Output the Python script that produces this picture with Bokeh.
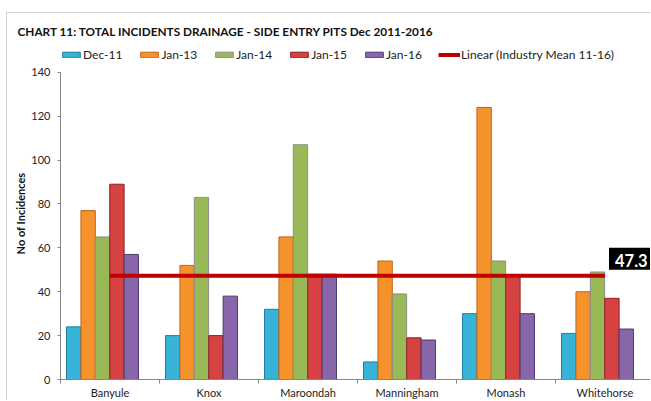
import numpy as np
from bokeh.plotting import figure
from bokeh.models import (ColumnDataSource, Range1d, FixedTicker, Legend, LegendItem, Label, Title)
from bokeh.embed import file_html
from bokeh.resources import INLINE

categories = ["Banyule", "Knox", "Maroondah", "Manningham", "Monash", "Whitehorse"]
series_names = ["Dec-11", "Jan-13", "Jan-14", "Jan-15", "Jan-16"]
dec11 = [24, 20, 32, 8, 30, 21]
jan13 = [77, 52, 65, 54, 124, 40]
jan14 = [65, 83, 107, 39, 54, 49]
jan15 = [89, 20, 48, 19, 47, 37]
jan16 = [57, 38, 48, 18, 30, 23]
industry_mean = 47.3
mean_label = "47.3"
y_ticks = [0, 20, 40, 60, 80, 100, 120, 140]

series = [dec11, jan13, jan14, jan15, jan16]
fills = ["#36b3d6", "#f5922c", "#98b955", "#d64242", "#8767aa"]
edges = ["#217f9b", "#c0651a", "#8c8c8c", "#8c2222", "#4e3a6c"]

FONT = "Lato"
PX_PER_UNIT = 309 / 140  # vertical scale of the reference

p = figure(width=644, height=388, output_backend="svg", toolbar_location=None,
           x_range=Range1d(0, 591 / 99), y_range=Range1d(0, 334 / PX_PER_UNIT),
           min_border_left=53, min_border_right=0, min_border_top=32, min_border_bottom=22)
p.margin = (12, 0, 0, 6)
p.styles = {"border-top": "1px solid #d0d0d0", "border-left": "1px solid #d0d0d0"}
p.outline_line_color = None
p.xgrid.grid_line_color = None
p.ygrid.grid_line_color = None

centers = np.arange(len(categories)) + 0.5
bw = 0.145
offsets = [-0.367, -0.221, -0.076, 0.07, 0.215]

renderers = []
for vals, off, fc, ec in zip(series, offsets, fills, edges):
    src = ColumnDataSource(dict(x=centers + off, top=vals))
    r = p.vbar(x="x", top="top", width=bw, bottom=0, source=src,
               fill_color=fc, line_color=ec, line_width=1)
    renderers.append(r)

mean_src = ColumnDataSource(dict(x=centers, y=[industry_mean] * len(categories)))
lr = p.line(x="x", y="y", source=mean_src, line_color="#c00000", line_width=4)

lab = Label(x=centers[-1], y=industry_mean, text=mean_label, x_offset=4, y_offset=17,
            text_color="white", text_font=FONT, text_font_style="bold", text_font_size="16.5px",
            text_baseline="middle", background_fill_color="black", padding=(6, 3, 6, 3))
p.add_layout(lab)

# axes
p.xaxis.ticker = FixedTicker(ticks=list(centers), minor_ticks=list(range(len(categories) + 1)))
p.xaxis.major_label_overrides = {float(c): n for c, n in zip(centers, categories)}
p.xaxis.major_tick_line_color = None
p.xaxis.major_tick_out = 0
p.xaxis.major_tick_in = 0
p.xaxis.minor_tick_out = 4
p.xaxis.minor_tick_in = 0
p.xaxis.minor_tick_line_color = "#868686"
p.xaxis.axis_line_color = "#868686"
p.xaxis.major_label_text_font = FONT
p.xaxis.major_label_text_font_size = "11px"
p.xaxis.major_label_text_color = "#222222"
p.xaxis.major_label_standoff = 2

p.yaxis.ticker = FixedTicker(ticks=y_ticks)
p.yaxis.bounds = (y_ticks[0], y_ticks[-1])
p.yaxis.minor_tick_line_color = None
p.yaxis.major_tick_out = 3
p.yaxis.major_tick_in = 0
p.yaxis.major_tick_line_color = "#868686"
p.yaxis.axis_line_color = "#868686"
p.yaxis.major_label_text_font = FONT
p.yaxis.major_label_text_font_size = "11px"
p.yaxis.major_label_text_color = "#222222"
p.yaxis.major_label_standoff = 7
p.yaxis.axis_label = "No of Incidences"
p.yaxis.axis_label_text_font = FONT
p.yaxis.axis_label_text_font_size = "11px"
p.yaxis.axis_label_text_font_style = "bold"
p.yaxis.axis_label_text_color = "#111111"
p.yaxis.axis_label_standoff = 1

items = [LegendItem(label=n, renderers=[r]) for n, r in zip(series_names, renderers)]
items.append(LegendItem(label="Linear (Industry Mean 11-16)", renderers=[lr]))
legend = Legend(items=items, orientation="horizontal", location=(0, 317),
                glyph_width=22, glyph_height=7, label_standoff=1, spacing=16,
                label_text_font=FONT, label_text_font_size="12px", label_text_color="#222222",
                background_fill_alpha=0, border_line_color=None, padding=0, margin=0,
                label_height=12)
p.add_layout(legend, "center")

p.title = Title(text="CHART 11: TOTAL INCIDENTS DRAINAGE - SIDE ENTRY PITS Dec 2011-2016",
                text_font=FONT, text_font_size="11.8px", text_font_style="bold",
                text_color="#111111", offset=-43, standoff=17)

open("out.html", "w").write(file_html(p, INLINE))
